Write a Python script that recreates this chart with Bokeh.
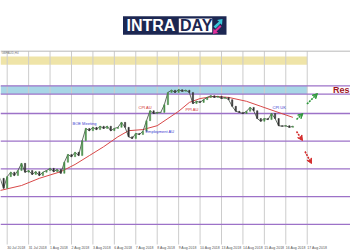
from bokeh.plotting import figure
from bokeh.models import Range1d, Arrow, VeeHead
from bokeh.embed import file_html
from bokeh.resources import INLINE
from bokeh.core.properties import value

# ---------------- data ----------------
bar_start_day = -1 / 3      # first 4h bar, in days from first grid day
bar_hours = 4
bar_close = [
    1.7833, 1.7815, 1.7836, 1.7844, 1.7838, 1.7847, 1.7860, 1.7844, 1.7847, 1.7840,
    1.7845, 1.7838, 1.7844, 1.7847, 1.7851, 1.7845, 1.7849, 1.7842, 1.7862, 1.7876,
    1.7872, 1.7880, 1.7874, 1.7901, 1.7923, 1.7919, 1.7925, 1.7921, 1.7927, 1.7923,
    1.7927, 1.7919, 1.7923, 1.7925, 1.7934, 1.7925, 1.7908, 1.7905, 1.7914, 1.7912,
    1.7918, 1.7937, 1.7955, 1.7950, 1.7952, 1.7952, 1.7966, 1.7988, 1.7992, 1.7988,
    1.7993, 1.7990, 1.7992, 1.7988, 1.7968, 1.7972, 1.7970, 1.7975, 1.7979, 1.7982,
    1.7979, 1.7981, 1.7977, 1.7979, 1.7975, 1.7963, 1.7954, 1.7952, 1.7950, 1.7954,
    1.7961, 1.7955, 1.7941, 1.7936, 1.7941, 1.7939, 1.7950, 1.7941, 1.7928, 1.7927,
    1.7928, 1.7925, 1.7927,
]
ma_bar_index = [0, 6, 11, 17, 21, 25, 29, 33, 36, 40, 44, 47, 50, 53, 56, 60, 64, 69, 73, 77, 82]
ma_values = [1.7811, 1.7820, 1.7833, 1.7845, 1.7858, 1.7874, 1.7890, 1.7908, 1.7919, 1.7921,
             1.7928, 1.7941, 1.7954, 1.7970, 1.7977, 1.7981, 1.7979, 1.7972, 1.7963, 1.7954, 1.7943]
levels = [1.8000, 1.7985, 1.7950, 1.7900, 1.7850, 1.7800, 1.7750]
resistance_zone = [1.7985, 1.8000]
upper_zone = [1.8038, 1.8053]
chart_top = 1.80625
grid_days = list(range(15))
day_labels = ["30 Jul 2018", "31 Jul 2018", "1 Aug 2018", "2 Aug 2018", "3 Aug 2018",
              "6 Aug 2018", "7 Aug 2018", "8 Aug 2018", "9 Aug 2018", "10 Aug 2018",
              "13 Aug 2018", "14 Aug 2018", "15 Aug 2018", "16 Aug 2018", "17 Aug 2018"]
event_names = ["BOE Meeting", "CPI AU", "Employment AU", "PPI AU", "CPI UK"]
event_days = [3.05, 6.13, 6.45, 8.32, 12.38]
event_prices = [1.7932, 1.7961, 1.7918, 1.7957, 1.7961]
event_colors = ["#3a3ad0", "#d03030", "#3a3ad0", "#d03030", "#3a3ad0"]
zone_label = "Res"

# ---------------- geometry helpers (canvas pixels -> data) ----------------
PX_PER_DAY = 21.43
PX_PER_PRICE = 5540.0
X0 = -6.7 / PX_PER_DAY
X1 = X0 + 350 / PX_PER_DAY
Y1 = 1.8000 + 85.3 / PX_PER_PRICE
Y0 = Y1 - 250 / PX_PER_PRICE


def px(x):
    return X0 + x / PX_PER_DAY


def py(y):
    return Y1 - y / PX_PER_PRICE


p = figure(width=350, height=250, x_range=Range1d(X0, X1), y_range=Range1d(Y0, Y1),
           x_axis_type=None, y_axis_type=None, toolbar_location=None,
           output_backend="svg", min_border=0, background_fill_color="white",
           border_fill_color="white")
p.outline_line_color = None
p.grid.visible = False

last_day = grid_days[-1]

# zones
p.quad(left=[X0], right=[last_day], bottom=[upper_zone[0]], top=[upper_zone[1]],
       fill_color="#efe4a8", line_color=None)
p.quad(left=[X0], right=[last_day], bottom=[resistance_zone[0]], top=[resistance_zone[1]],
       fill_color="#a8d6e6", line_color=None)

# vertical grid
p.segment(x0=grid_days, x1=grid_days, y0=[chart_top] * len(grid_days),
          y1=[py(244)] * len(grid_days), line_color="#cccccc", line_width=1)

# top border
p.segment(x0=[X0], x1=[X1], y0=[chart_top], y1=[chart_top], line_color="#b8b8b8", line_width=1)

# levels
p.segment(x0=[X0] * len(levels), x1=[X1] * len(levels), y0=levels, y1=levels,
          line_color="#9d72c8", line_width=1.3)

# moving average
ma_days = [bar_start_day + i * bar_hours / 24 for i in ma_bar_index]
p.line(ma_days, ma_values, line_color="#d84848", line_width=1.0)

# candles
bar_days = [bar_start_day + i * bar_hours / 24 for i in range(len(bar_close))]
opens = [bar_close[0]] + bar_close[:-1]
tops = [max(o, c) for o, c in zip(opens, bar_close)]
bots = [min(o, c) for o, c in zip(opens, bar_close)]
cols = ["#4a8f4a" if c >= o else "#333333" for o, c in zip(opens, bar_close)]
p.line(bar_days, bar_close, line_color="#3a463a", line_width=0.8)
p.vbar(x=bar_days, width=0.06, top=tops, bottom=bots, fill_color=cols, line_color=cols,
       line_width=0.5)

# events
p.text(x=event_days, y=event_prices, text=event_names, text_color=event_colors,
       text_font_size="4px", text_baseline="middle", text_align="left",
       text_font=value("Liberation Sans"))

# date labels
p.text(x=grid_days, y=[py(247)] * len(grid_days), text=day_labels, text_color="#555555",
       text_font_size="3.5px", text_baseline="middle", text_align="left",
       text_font=value("Liberation Sans"))
p.text(x=[px(1)], y=[py(52.5)], text=["GBPAUD,H4"], text_color="#777777",
       text_font_size="3px", text_baseline="middle", text_font=value("Liberation Sans"))

# resistance label (only its first letters are visible at the right edge)
p.text(x=[px(349)], y=[(resistance_zone[0] + resistance_zone[1]) / 2], text=[zone_label],
       text_color="#a0161e", text_font_size="9px", text_font_style="bold",
       text_baseline="middle", text_align="right", text_font=value("Liberation Sans"))

# scenario arrows
for (xa, ya, xb, yb, c) in [(296, 119, 302.5, 113, "#2f9a3c"), (306.5, 103.5, 317, 93, "#2f9a3c"),
                            (296, 131, 302, 140, "#d42a2a"), (304.5, 151, 311, 163, "#d42a2a")]:
    p.add_layout(Arrow(x_start=px(xa), y_start=py(ya), x_end=px(xb), y_end=py(yb),
                       line_color=c, line_width=1.6, line_dash="2 1",
                       end=VeeHead(size=5, line_color=c, fill_color=c, line_width=1)))

# logo
p.quad(left=[px(122.5)], right=[px(226)], top=[py(15.7)], bottom=[py(34.3)],
       fill_color="#1c2752", line_color=None)
p.quad(left=[px(178.3)], right=[px(211.7)], top=[py(18)], bottom=[py(32)],
       fill_color="white", line_color=None)
p.text(x=[px(126)], y=[py(25.3)], text=["INTRA"], text_color="white", text_font_size="16px",
       text_font_style="bold", text_baseline="middle", text_font=value("Liberation Sans"))
p.text(x=[px(179.5)], y=[py(25.3)], text=["DAY"], text_color="#1c2752", text_font_size="16px",
       text_font_style="bold", text_baseline="middle", text_font=value("Liberation Sans"))
cy = [(213, 26), (218.5, 21), (216.5, 19.5), (222, 18.5), (221.5, 24.5), (220, 23), (215, 28)]
mg = [(221, 26), (216, 31), (218, 32.5), (212.5, 33.5), (213, 28), (214.5, 29.5), (219.5, 24.5)]
p.patch([px(a) for a, b in cy], [py(b) for a, b in cy], fill_color="#39c6d8", line_color=None)
p.patch([px(a) for a, b in mg], [py(b) for a, b in mg], fill_color="#e0309a", line_color=None)

open("out.html", "w").write(file_html(p, INLINE))
